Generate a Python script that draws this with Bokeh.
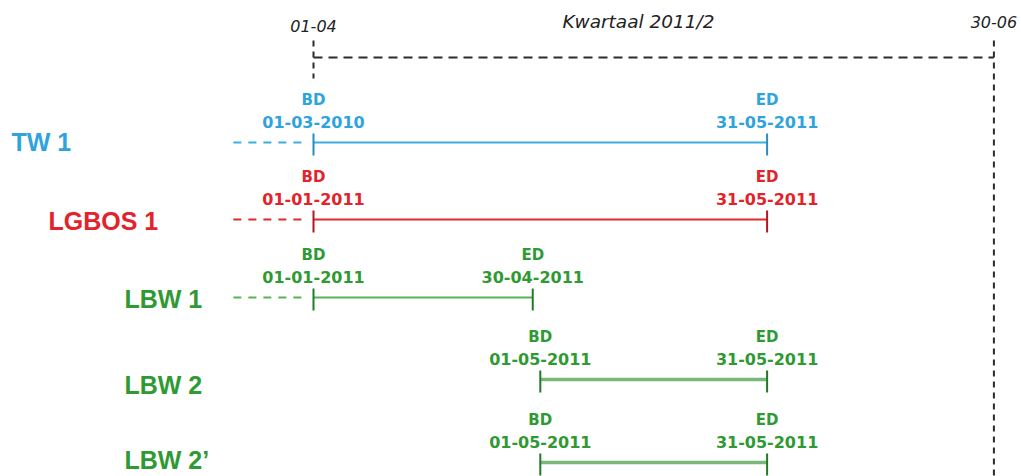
import pandas as pd
from bokeh.plotting import figure
from bokeh.models import Range1d, Label
from bokeh.core.properties import value
from bokeh.embed import file_html
from bokeh.resources import INLINE

# ---------------- data ----------------
rows = ["TW 1", "LGBOS 1", "LBW 1", "LBW 2", "LBW 2\u2019"]
begin_dates = ["01-03-2010", "01-01-2011", "01-01-2011", "01-05-2011", "01-05-2011"]
end_dates = ["31-05-2011", "31-05-2011", "30-04-2011", "31-05-2011", "31-05-2011"]
begin_tag = "BD"
end_tag = "ED"
quarter_start = "01-04-2011"
quarter_end = "30-06-2011"
quarter_label = "Kwartaal 2011/2"
quarter_start_label = "01-04"
quarter_end_label = "30-06"

# ---------------- style / layout ----------------
text_col = ["#2fa4dc", "#e3232b", "#2f9a33", "#2f9a33", "#2f9a33"]
line_col = ["#3aaee0", "#e02a2a", "#55b355", "#78b878", "#78b878"]
tick_col = ["#2a8cc0", "#b0181e", "#227a25", "#227a25", "#227a25"]
line_w = [2, 2, 2, 3.5, 3.5]
row_y = [142, 219, 297, 379, 462]        # canvas px (top-down)
label_x = [11, 48, 124]                   # screen px for row labels
label_x_idx = [0, 1, 2, 2, 2]
row_label_dy = [-1, 1, 1, 5, -3]

W, H = 1021, 476
X0_PX, PX_PER_DAY = 313, 7.56
LEAD_DAYS = 10.6

q0 = pd.to_datetime(quarter_start, format="%d-%m-%Y")
def day(s):
    return (pd.to_datetime(s, format="%d-%m-%Y") - q0).days

qend = day(quarter_end)

p = figure(width=W, height=H, output_backend="svg", toolbar_location=None,
           x_range=Range1d(-X0_PX / PX_PER_DAY, (W - X0_PX) / PX_PER_DAY),
           y_range=Range1d(H, 0), min_border=0, outline_line_color=None)
p.axis.visible = False
p.grid.visible = False
p.background_fill_color = "white"
p.border_fill_color = "white"

dark = "#2b2b2b"
# quarter frame
p.segment(x0=[0], y0=[40], x1=[0], y1=[78], line_color=dark, line_width=2, line_dash="6 5")
p.segment(x0=[0], y0=[57], x1=[qend], y1=[57], line_color=dark, line_width=2, line_dash="9 6")
p.segment(x0=[qend], y0=[40], x1=[qend], y1=[H], line_color=dark, line_width=2, line_dash="6 5")

top_font = value("DejaVu Sans")
p.text(x=[0], y=[25], text=[quarter_start_label], text_font=top_font, text_font_style="italic",
       text_font_size="16px", text_align="center", text_baseline="middle", text_color="#222222")
p.text(x=[qend], y=[21], text=[quarter_end_label], text_font=top_font, text_font_style="italic",
       text_font_size="16px", text_align="center", text_baseline="middle", text_color="#222222")
p.add_layout(Label(x=638, y=21, x_units="screen", y_units="data", text=quarter_label,
                   text_font="DejaVu Sans", text_font_style="italic", text_font_size="18.5px",
                   text_align="center", text_baseline="middle", text_color="#222222"))

ann_font = value("DejaVu Sans")
for i, name in enumerate(rows):
    y = row_y[i]
    b_raw = day(begin_dates[i])
    b = max(b_raw, 0)
    e = day(end_dates[i])
    if b_raw < 0:
        p.segment(x0=[-LEAD_DAYS], y0=[y], x1=[b - 0.9], y1=[y], line_color=line_col[i],
                  line_width=2, line_dash="8 7")
    p.segment(x0=[b], y0=[y], x1=[e], y1=[y], line_color=line_col[i], line_width=line_w[i])
    p.segment(x0=[b, e], y0=[y - 9, y - 9], x1=[b, e], y1=[y + 13, y + 13],
              line_color=tick_col[i], line_width=2)
    p.text(x=[b, e], y=[y - 43, y - 43], text=[begin_tag, end_tag], text_font=ann_font,
           text_font_style="bold", text_font_size="15px", text_align="center",
           text_baseline="middle", text_color=text_col[i])
    p.text(x=[b, e], y=[y - 21, y - 21], text=[begin_dates[i], end_dates[i]], text_font=ann_font,
           text_font_style="bold", text_font_size="16px", text_align="center",
           text_baseline="middle", text_color=text_col[i])
    p.add_layout(Label(x=label_x[label_x_idx[i]], y=y + row_label_dy[i], x_units="screen",
                       y_units="data", text=name, text_font="Liberation Sans",
                       text_font_style="bold", text_font_size="25px", text_align="left",
                       text_baseline="middle", text_color=text_col[i]))

open("out.html", "w").write(file_html(p, INLINE))
